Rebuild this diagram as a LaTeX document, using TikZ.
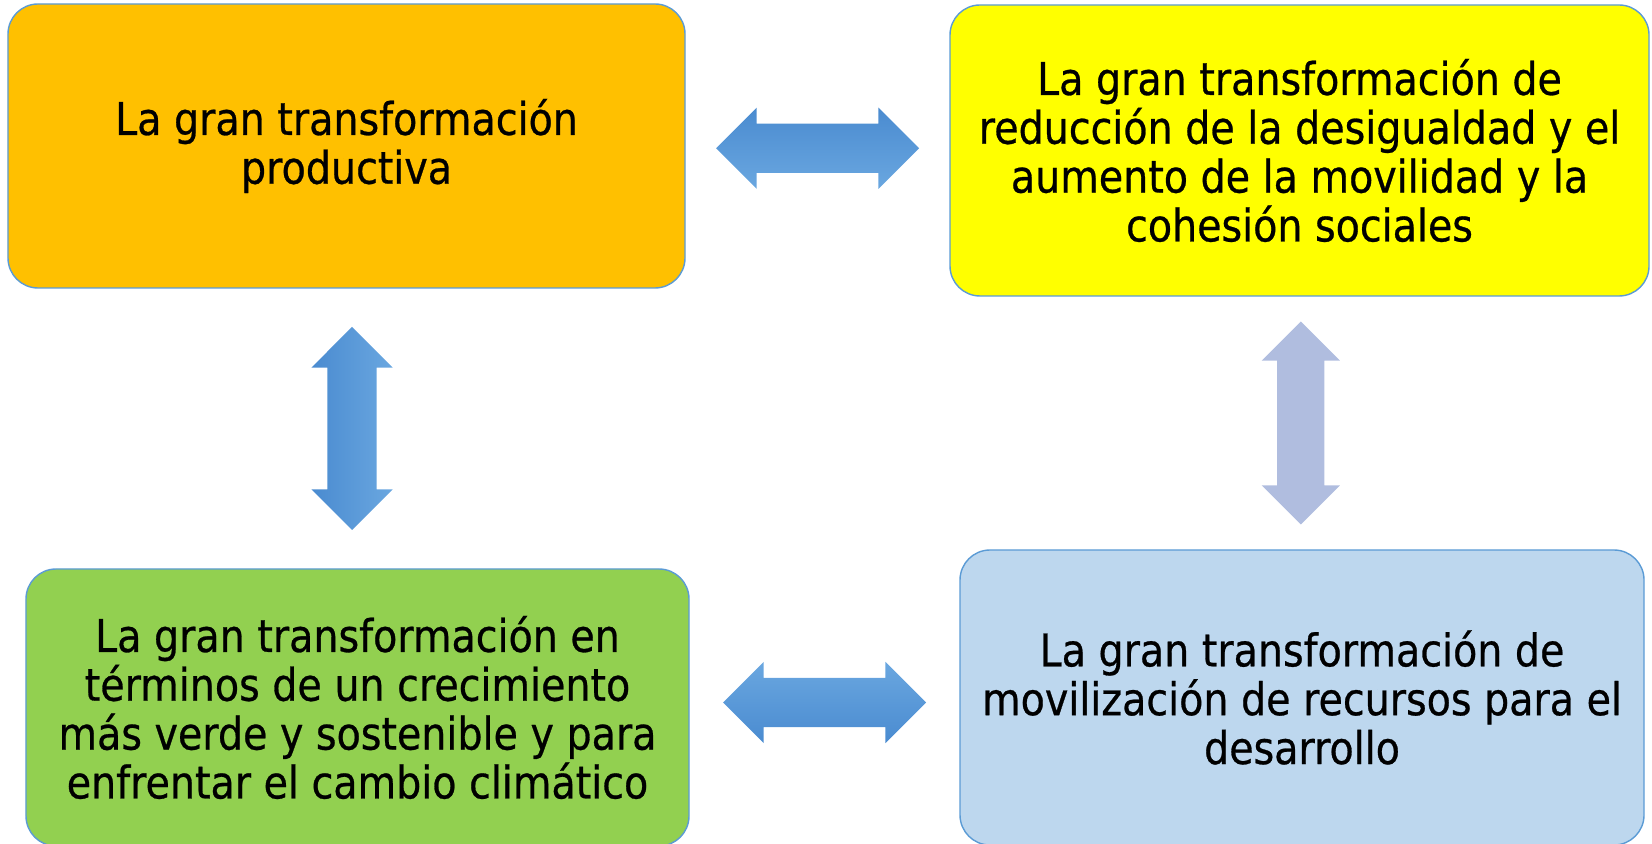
\documentclass[tikz,border=0pt]{standalone}
\usepackage{fontspec}
\setmainfont{DejaVu Sans}[FakeStretch=0.88, FakeBold=0.6]
\usepackage{tikz}
\usetikzlibrary{shapes.arrows, positioning, calc}

\definecolor{boxline}{HTML}{5B9BD5}
\definecolor{prodorange}{HTML}{FFC000}
\definecolor{socialyellow}{HTML}{FFFF00}
\definecolor{verdegreen}{HTML}{92D050}
\definecolor{recursosblue}{HTML}{BDD7EE}
\definecolor{arrowdark}{HTML}{4A8BD0}
\definecolor{arrowlight}{HTML}{6AA7E0}
\definecolor{arrowlilac}{HTML}{B0BDDF}

\tikzset{
  box/.style={draw=boxline, line width=0.4pt, rounded corners=0.3cm, align=center,
    inner sep=0pt, font=\fontsize{12.8}{13.9}\selectfont},
  dblarrow/.style={double arrow, double arrow head extend=0.16cm,
    double arrow tip angle=90, minimum height=2.03cm, inner xsep=0pt, inner ysep=0.24cm}
}

\begin{document}
\begin{tikzpicture}
\useasboundingbox (0,0) rectangle (16.52,-8.44);
% Boxes
\node[box, fill=prodorange, minimum width=6.77cm, minimum height=2.84cm] (prod) at (3.465,-1.46)
  {La gran transformación\\productiva};
\node[box, fill=socialyellow, minimum width=6.99cm, minimum height=2.91cm] (social) at (12.995,-1.505)
  {La gran transformación de\\reducción de la desigualdad y el\\aumento de la movilidad y la\\cohesión sociales};
\node[box, fill=verdegreen, minimum width=6.63cm, minimum height=2.77cm] (verde) at (3.575,-7.075)
  {La gran transformación en\\términos de un crecimiento\\más verde y sostenible y para\\enfrentar el cambio climático};
\node[box, fill=recursosblue, minimum width=6.84cm, minimum height=2.95cm] (recursos) at (13.02,-6.975)
  {La gran transformación de\\movilización de recursos para el\\desarrollo};
% Arrows
\node[dblarrow, top color=arrowdark, bottom color=arrowlight] (prodsocial)
  at ($(prod.east)!0.5!(social.west)$) {};
\node[dblarrow, top color=arrowlight, bottom color=arrowdark] (verderecursos)
  at ($(verde.east)!0.5!(recursos.west)$) {};
\node[dblarrow, rotate=90, left color=arrowdark, right color=arrowlight] (prodverde)
  at ($(prod.south)!0.5!(verde.north)$) {};
\node[dblarrow, rotate=90, fill=arrowlilac, inner ysep=0.23cm, double arrow head extend=0.155cm] (socialrecursos)
  at ($(social.south)!0.5!(recursos.north)$) {};
\end{tikzpicture}
\end{document}
